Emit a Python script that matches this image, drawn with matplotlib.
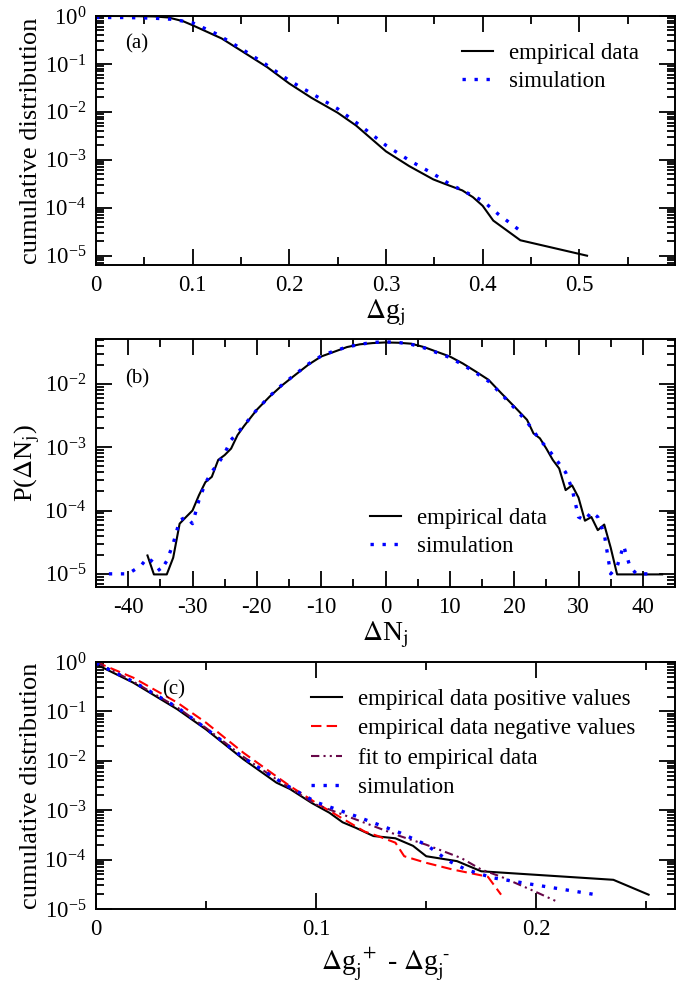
import matplotlib
matplotlib.use("Agg")
import matplotlib.pyplot as plt
import numpy as np
from matplotlib.ticker import LogLocator, MultipleLocator, NullFormatter

plt.rcParams['font.family'] = ['Liberation Serif', 'DejaVu Serif']
plt.rcParams['mathtext.fontset'] = 'stix'
plt.rcParams['axes.unicode_minus'] = False

# panel (a): cumulative distribution of delta g
a_emp_x = [0.0, 0.03, 0.06, 0.075, 0.09, 0.1, 0.13, 0.15, 0.177, 0.2, 0.223, 0.25, 0.269,
           0.3, 0.324, 0.349, 0.36, 0.379, 0.39, 0.4, 0.411, 0.439, 0.508]
a_emp_y = [1.0, 1.0, 0.98, 0.93, 0.78, 0.64, 0.34, 0.19, 0.086, 0.039, 0.0196, 0.0096, 0.0052,
           0.0015, 7.4e-4, 3.9e-4, 3.2e-4, 2.3e-4, 1.66e-4, 1.1e-4, 5.4e-5, 2.1e-5, 1.0e-5]
a_sim_x = [0.0, 0.03, 0.06, 0.08, 0.1, 0.125, 0.15, 0.175, 0.2, 0.225, 0.25, 0.275, 0.3,
           0.325, 0.349, 0.365, 0.379, 0.4, 0.416, 0.439]
a_sim_y = [0.93, 0.93, 0.9, 0.85, 0.72, 0.42, 0.21, 0.1, 0.045, 0.023, 0.0116, 0.0049, 0.002,
           9.5e-4, 5.1e-4, 3.2e-4, 2.3e-4, 1.4e-4, 7.4e-5, 3.3e-5]

# panel (b): distribution of delta N
b_emp_x = [-37, -36, -34, -33, -32, -31, -30, -29, -28, -27, -26, -25, -24, -23, -22, -20,
           -18, -16, -14, -12, -10, -8, -6, -4, -2, 0, 2, 4, 6, 8, 10, 12, 14, 16, 18, 20,
           22, 23, 24, 25, 26, 27, 28, 29, 30, 31, 32, 33, 34, 35, 36, 43]
b_emp_y = [1.95e-5, 9.8e-6, 9.8e-6, 1.8e-5, 6.2e-5, 7.9e-5, 1.0e-4, 1.74e-4, 2.8e-4, 3.4e-4,
           6.3e-4, 7.5e-4, 9.5e-4, 1.55e-3, 2.15e-3, 3.9e-3, 6.3e-3, 9.6e-3, 0.0139, 0.02,
           0.027, 0.032, 0.038, 0.042, 0.044, 0.045, 0.0445, 0.043, 0.038, 0.032, 0.027,
           0.021, 0.0157, 0.0116, 7.1e-3, 4.4e-3, 2.7e-3, 1.65e-3, 1.38e-3, 9.5e-4, 6.3e-4,
           4.6e-4, 2.1e-4, 2.5e-4, 1.6e-4, 6.9e-5, 7.9e-5, 4.9e-5, 6.0e-5, 2.6e-5, 9.8e-6, 9.8e-6]
b_sim_x = [-43, -40, -38, -37, -36, -35, -34, -33, -32, -31, -30, -29, -28, -27, -26, -25,
           -24, -22, -20, -18, -16, -14, -12, -10, -8, -6, -4, -2, 0, 2, 4, 6, 8, 10, 12,
           14, 16, 18, 20, 22, 24, 25, 26, 27, 28, 29, 30, 31, 32, 33, 34, 35, 36, 37, 38,
           39, 42]
b_sim_y = [1.0e-5, 1.0e-5, 1.35e-5, 1.8e-5, 1.5e-5, 1.1e-5, 1.6e-5, 3.0e-5, 7.0e-5, 7.9e-5,
           6.2e-5, 1.45e-4, 2.7e-4, 4.1e-4, 5.5e-4, 8.0e-4, 1.3e-3, 2.2e-3, 3.9e-3, 6.4e-3,
           9.8e-3, 0.0142, 0.0205, 0.0275, 0.033, 0.038, 0.042, 0.045, 0.046, 0.045, 0.042,
           0.037, 0.031, 0.026, 0.02, 0.015, 0.011, 6.9e-3, 4.2e-3, 2.5e-3, 1.3e-3, 1.0e-3,
           7.5e-4, 5.5e-4, 4.0e-4, 2.2e-4, 7.9e-5, 7.0e-5, 9.5e-5, 7.9e-5, 4.3e-5, 1.0e-5,
           1.3e-5, 2.8e-5, 1.3e-5, 1.0e-5, 1.0e-5]

# panel (c): cumulative distribution of delta g+ - delta g-
c_pos_x = [0.0, 0.017, 0.037, 0.05, 0.067, 0.082, 0.088, 0.098, 0.106, 0.112, 0.118, 0.126,
           0.136, 0.144, 0.150, 0.164, 0.175, 0.235, 0.251]
c_pos_y = [0.9, 0.38, 0.11, 0.043, 0.0107, 3.6e-3, 2.7e-3, 1.4e-3, 8.9e-4, 5.7e-4, 4.4e-4,
           3.0e-4, 2.7e-4, 1.9e-4, 1.17e-4, 9.3e-5, 5.8e-5, 3.9e-5, 1.95e-5]
c_neg_x = [0.0, 0.017, 0.037, 0.05, 0.067, 0.088, 0.1, 0.114, 0.122, 0.128, 0.136, 0.14,
           0.150, 0.162, 0.178, 0.184]
c_neg_y = [1.0, 0.48, 0.15, 0.059, 0.0145, 3.1e-3, 1.4e-3, 6.0e-4, 3.7e-4, 3.0e-4, 2.2e-4,
           1.17e-4, 8.6e-5, 6.3e-5, 4.5e-5, 1.95e-5]
c_fit_x = [0.0, 0.017, 0.037, 0.05, 0.067, 0.085, 0.1, 0.118, 0.138, 0.15, 0.166, 0.175,
           0.184, 0.199, 0.209]
c_fit_y = [1.0, 0.4, 0.12, 0.046, 0.012, 3.4e-3, 1.3e-3, 6.5e-4, 3.0e-4, 2.0e-4, 1.07e-4,
           6.3e-5, 4.5e-5, 2.3e-5, 1.44e-5]
c_sim_x = [0.0, 0.017, 0.037, 0.05, 0.067, 0.085, 0.1, 0.118, 0.138, 0.150, 0.160, 0.168,
           0.180, 0.199, 0.227]
c_sim_y = [0.95, 0.4, 0.12, 0.045, 0.0115, 3.5e-3, 1.45e-3, 7.6e-4, 3.5e-4, 2.0e-4, 9.5e-5,
           6.3e-5, 4.3e-5, 3.1e-5, 1.95e-5]

BLUE = '#0000ff'
RED = '#ff0000'
MAROON = '#670748'
LW = 1.5
dot_style = (0, (1, 2.6))
dash_style = (0, (5, 2.5))
dashdot_style = (0, (4, 2, 1, 2, 1, 2))

fig = plt.figure(figsize=(6.89, 9.85), dpi=100)
W, H = 689.0, 985.0
def axes_px(top, bottom):
    return fig.add_axes([96 / W, 1 - bottom / H, (675 - 96) / W, (bottom - top) / H])

ax_a = axes_px(16, 265)
ax_b = axes_px(339, 587)
ax_c = axes_px(662, 909)

def style_axes(ax, xmajor, xminor):
    ax.set_yscale('log')
    ax.yaxis.set_major_locator(LogLocator(base=10, numticks=20))
    ax.yaxis.set_minor_locator(LogLocator(base=10, subs=np.arange(2, 10), numticks=20))
    ax.yaxis.set_minor_formatter(NullFormatter())
    ax.xaxis.set_major_locator(MultipleLocator(xmajor))
    ax.xaxis.set_minor_locator(MultipleLocator(xminor))
    ax.tick_params(which='both', direction='in', top=True, right=True, width=1.3,
                   labelsize=16.5, pad=7)
    ax.tick_params(which='major', length=11.5)
    ax.tick_params(which='minor', length=5.8)
    for s in ax.spines.values():
        s.set_linewidth(1.4)

def put_legend(ax, left_px, top_px, spacing=0.3):
    ax.legend(loc='upper left', bbox_to_anchor=(left_px / W, 1 - top_px / H),
              bbox_transform=fig.transFigure, frameon=False, fontsize=16.5, borderpad=0,
              borderaxespad=0, handlelength=1.35, handletextpad=0.72, labelspacing=spacing)

# (a)
ax_a.plot(a_emp_x, a_emp_y, color='black', lw=LW, label='empirical data')
ax_a.plot(a_sim_x, a_sim_y, color=BLUE, lw=2.4, ls=dot_style, label='simulation')
style_axes(ax_a, 0.1, 0.05)
ax_a.set_xlim(0, 0.599)
ax_a.set_ylim(6.4e-6, 1.0)
ax_a.set_xticks([0, 0.1, 0.2, 0.3, 0.4, 0.5])
ax_a.set_xticklabels(['0', '0.1', '0.2', '0.3', '0.4', '0.5'])
ax_a.set_ylabel('cumulative distribution', fontsize=19, labelpad=2)
ax_a.set_xlabel(r'$\Delta$g$_\mathrm{j}$', fontsize=20, labelpad=1)
ax_a.text(0.05, 0.87, '(a)', transform=ax_a.transAxes, fontsize=15)
put_legend(ax_a, 462, 43)

# (b)
ax_b.plot(b_emp_x, b_emp_y, color='black', lw=LW, label='empirical data')
ax_b.plot(b_sim_x, b_sim_y, color=BLUE, lw=2.4, ls=dot_style, label='simulation')
style_axes(ax_b, 10, 5)
ax_b.set_xlim(-45, 45)
ax_b.set_ylim(6.2e-6, 0.051)
ax_b.set_ylabel(r'P($\Delta$N$_\mathrm{j}$)', fontsize=19, labelpad=2)
ax_b.set_xlabel(r'$\Delta$N$_\mathrm{j}$', fontsize=20, labelpad=1)
ax_b.text(0.05, 0.82, '(b)', transform=ax_b.transAxes, fontsize=15)
put_legend(ax_b, 370, 508)

# (c)
ax_c.plot(c_pos_x, c_pos_y, color='black', lw=LW, label='empirical data positive values')
ax_c.plot(c_neg_x, c_neg_y, color=RED, lw=LW, ls=dash_style, label='empirical data negative values')
ax_c.plot(c_fit_x, c_fit_y, color=MAROON, lw=LW, ls=dashdot_style, label='fit to empirical data')
ax_c.plot(c_sim_x, c_sim_y, color=BLUE, lw=2.4, ls=dot_style, label='simulation')
style_axes(ax_c, 0.1, 0.05)
ax_c.set_xlim(0, 0.263)
ax_c.set_ylim(1e-5, 1.0)
ax_c.set_xticks([0, 0.1, 0.2])
ax_c.set_xticklabels(['0', '0.1', '0.2'])
ax_c.set_ylabel('cumulative distribution', fontsize=19, labelpad=2)
ax_c.set_xlabel(r'$\Delta$g$_\mathrm{j}^{\ +}$ - $\Delta$g$_\mathrm{j}^{\ \text{-}}$',
                fontsize=20, labelpad=4)
ax_c.text(0.115, 0.87, '(c)', transform=ax_c.transAxes, fontsize=15)
put_legend(ax_c, 311, 689, spacing=0.36)

fig.savefig('out.png', dpi=100)
